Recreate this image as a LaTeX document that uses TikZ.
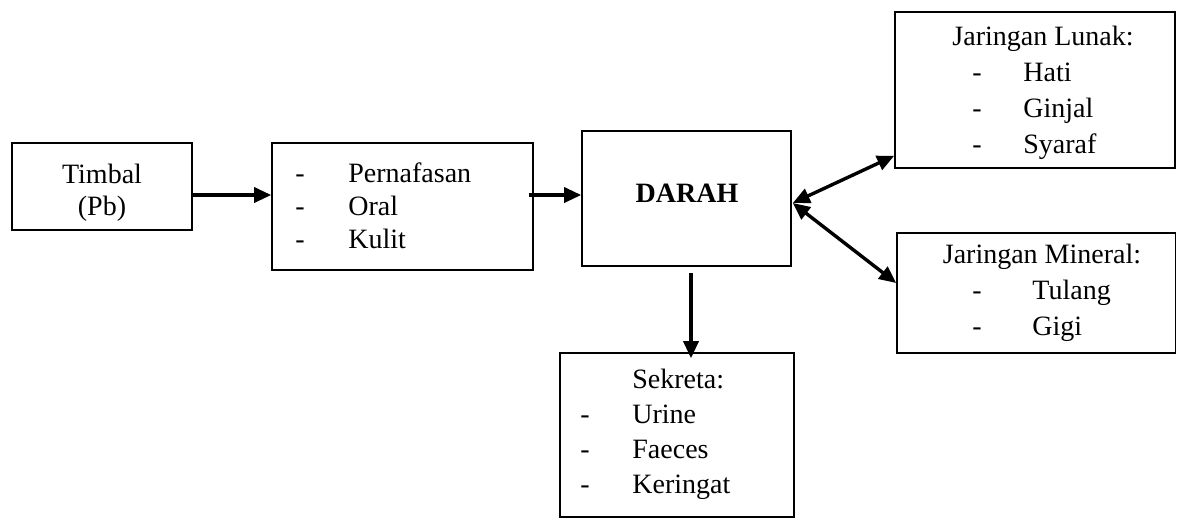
\documentclass[tikz,border=0pt]{standalone}
\usepackage{fontspec}
\setmainfont{Liberation Serif}
\usetikzlibrary{arrows.meta}
\begin{document}
\begin{tikzpicture}[x=0.5pt,y=-0.5pt,
	every node/.style={font=\fontsize{14}{16}\selectfont},
	box/.style={draw,line width=0.8pt,inner sep=0pt},
	txt/.style={anchor=base,inner sep=0pt},
	item/.style={anchor=base west,inner sep=0pt},
	flow/.style={line width=1.7pt,-{Triangle[length=8.5pt,width=7.5pt]}},
	duo/.style={line width=1.7pt,{Triangle[length=8.5pt,width=7.5pt]}-{Triangle[length=8.5pt,width=7.5pt]}}]
\useasboundingbox (0,0) rectangle (1177,521);
% boxes
\node[box,minimum width=90pt,minimum height=43.5pt] (timbal) at (102,186.5) {};
\node[box,minimum width=130.5pt,minimum height=63.5pt] (jalur) at (402.5,206.5) {};
\node[box,minimum width=104.5pt,minimum height=67.5pt] (darah) at (686.5,198.5) {};
\node[box,minimum width=140pt,minimum height=78pt] (lunak) at (1035,90) {};
\node[box,minimum width=139.25pt,minimum height=60pt] (mineral) at (1036.25,293) {};
\node[box,minimum width=117pt,minimum height=82pt] (sekreta) at (677,435) {};
% texts
\node[txt] (timbal1) at (102,183) {Timbal};
\node[txt] (timbal2) at (102,215) {(Pb)};
\node[txt] (darahtxt) at (687,202) {\bfseries DARAH};
\foreach \t [count=\i] in {Pernafasan,Oral,Kulit}{
	\node[txt] (jd\i) at (300,149+33*\i) {-};
	\node[item] (jt\i) at (348,149+33*\i) {\t};
}
\node[txt] (lunak0) at (1043,45) {Jaringan Lunak:};
\foreach \t [count=\i] in {Hati,Ginjal,Syaraf}{
	\node[txt] (ld\i) at (977,45+36*\i) {-};
	\node[item] (lt\i) at (1023,45+36*\i) {\t};
}
\node[txt] (mineral0) at (1042,263) {Jaringan Mineral:};
\foreach \t [count=\i] in {Tulang,Gigi}{
	\node[txt] (md\i) at (977,263+36*\i) {-};
	\node[item] (mt\i) at (1032,263+36*\i) {\t};
}
\node[item] (sekreta0) at (632,388) {Sekreta:};
\foreach \t [count=\i] in {Urine,Faeces,Keringat}{
	\node[txt] (sd\i) at (585,388+35*\i) {-};
	\node[item] (st\i) at (632,388+35*\i) {\t};
}
% arrows
\draw[flow] ([yshift=-4.25pt]timbal.east) -- ([yshift=-4.25pt]timbal.east -| jalur.west);
\draw[flow] ([xshift=-2.5pt,yshift=1.75pt]darah.west -| jalur.east) -- ([yshift=1.75pt]darah.west);
\draw[flow] ([xshift=2.25pt,yshift=-3pt]darah.south) -- ([xshift=2.25pt,yshift=-3pt]darah.south |- sekreta.north);
\draw[duo] ([xshift=0.5pt,yshift=-2.25pt]darah.east) -- ([yshift=6.5pt]lunak.south west);
\draw[duo] ([xshift=0.5pt,yshift=-2.25pt]darah.east) -- ([yshift=5pt]mineral.west);
\end{tikzpicture}
\end{document}
